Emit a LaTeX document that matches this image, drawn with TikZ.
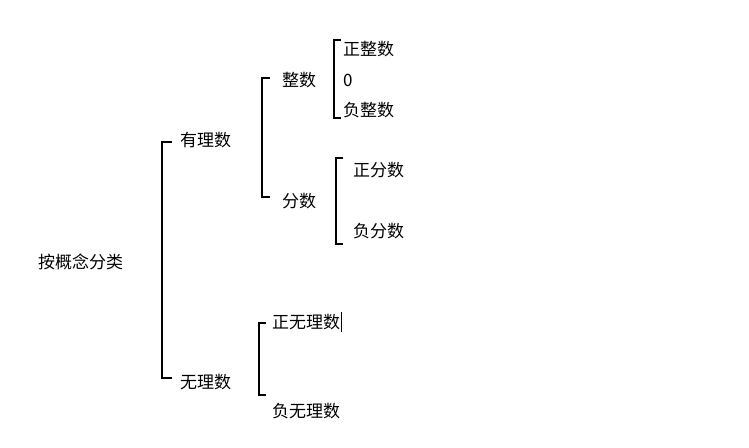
\documentclass[tikz,border=0pt]{standalone}
\usepackage{fontspec}
\setmainfont{Noto Sans CJK SC}
\begin{document}
\begin{tikzpicture}[x=1pt,y=-1pt,
  lab/.style={inner sep=0pt,anchor=west,font=\fontsize{17}{17}\selectfont},
  br/.style={line width=1.6pt}]
\useasboundingbox[fill=white] (0,0) rectangle (749,447);
\newcommand{\brk}[5]{% x, top, bottom, tick, stemx, mid
  \draw[br] (#1+#4,#2) -- (#1,#2) -- (#1,#3) -- (#1+#4,#3);}
\node[lab] (root) at (38,262) {按概念分类};
\node[lab] (ylz) at (180,140) {有理数};
\node[lab] (wlz) at (180,382) {无理数};
\node[lab] (zs) at (282,80) {整数};
\node[lab] (fs) at (282,201) {分数};
\node[lab] (zzs) at (343,49) {正整数};
\node[lab] (zero) at (343,80) {0};
\node[lab] (fzs) at (343,110) {负整数};
\node[lab] (zfs) at (353,170) {正分数};
\node[lab] (ffs) at (353,231) {负分数};
\node[lab] (zwl) at (272,322) {正无理数};
\node[lab] (fwl) at (272,411) {负无理数};
\draw[line width=0.8pt] (zwl.east)+(1,-10) -- +(1,10);
% brackets
\brk{162}{142}{378}{10}
\draw[br] (root.east)+(2,0) -- (162,262);
\brk{262}{78}{197}{8}
\draw[br] (ylz.east)+(6,0) -- (262,140);
\brk{334}{40}{118}{7}
\draw[br] (zs.east)+(2,0) -- (334,80);
\brk{336}{158}{244}{7}
\draw[br] (fs.east)+(2,0) -- (336,201);
\brk{259}{323}{395}{7}
\draw[br] (wlz.east)+(4,0) -- (259,370);
\end{tikzpicture}
\end{document}
